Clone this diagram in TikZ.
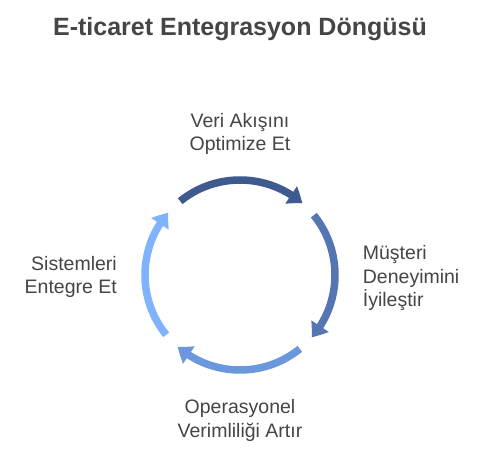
\documentclass[tikz,border=0pt]{standalone}
\usepackage{fontspec}
\setmainfont{Liberation Sans}
\usepackage{tikz}
\usetikzlibrary{calc, arrows.meta, bending}

\definecolor{textgray}{HTML}{454545}
\definecolor{stepA}{HTML}{3E5A8E}
\definecolor{stepB}{HTML}{5576B3}
\definecolor{stepC}{HTML}{6B98DC}
\definecolor{stepD}{HTML}{80B3FF}

\begin{document}
\begin{tikzpicture}[x=1pt, y=1pt,
    steplabel/.style={text=textgray, inner sep=0pt, font=\fontsize{19.5}{23.4}\selectfont},
    cyclearrow/.style={line width=7.5pt, -{Triangle[width=20pt, length=14pt, bend]}}]
		\fill[white] (0,0) rectangle (480,456);
		\useasboundingbox (0,0) rectangle (480,456);
		\coordinate (center) at (240,181);
		\node (title) [anchor=base, text=textgray, inner sep=0pt, font=\fontsize{25}{30}\selectfont\bfseries] at ($(center) + (0,239)$) {E-ticaret Entegrasyon Döngüsü};
		\node (top label) [steplabel, anchor=base, align=center] at ($(center) + (0,124)$) {Veri Akışını\\Optimize Et};
		\node (right label) [steplabel, anchor=base west, align=left] at ($(center) + (122.7,-31.7)$) {Müşteri\\Deneyimini\\İyileştir};
		\node (bottom label) [steplabel, anchor=base, align=center] at ($(center) + (0,-162)$) {Operasyonel\\Verimliliği Artır};
		\node (left label) [steplabel, anchor=base east, align=right] at ($(center) + (-123,-19)$) {Sistemleri\\Entegre Et};
		\foreach \ang/\col in {90/stepA, 0/stepB, -90/stepC, 180/stepD}
		    \coordinate (start \col) at ($(center) + (\ang+39:95)$);
		\foreach \ang/\col in {90/stepA, 0/stepB, -90/stepC, 180/stepD}
		    \draw[cyclearrow, \col] (start \col) arc[start angle=\ang+39, end angle=\ang-41, radius=95];
		\end{tikzpicture}
\end{document}
